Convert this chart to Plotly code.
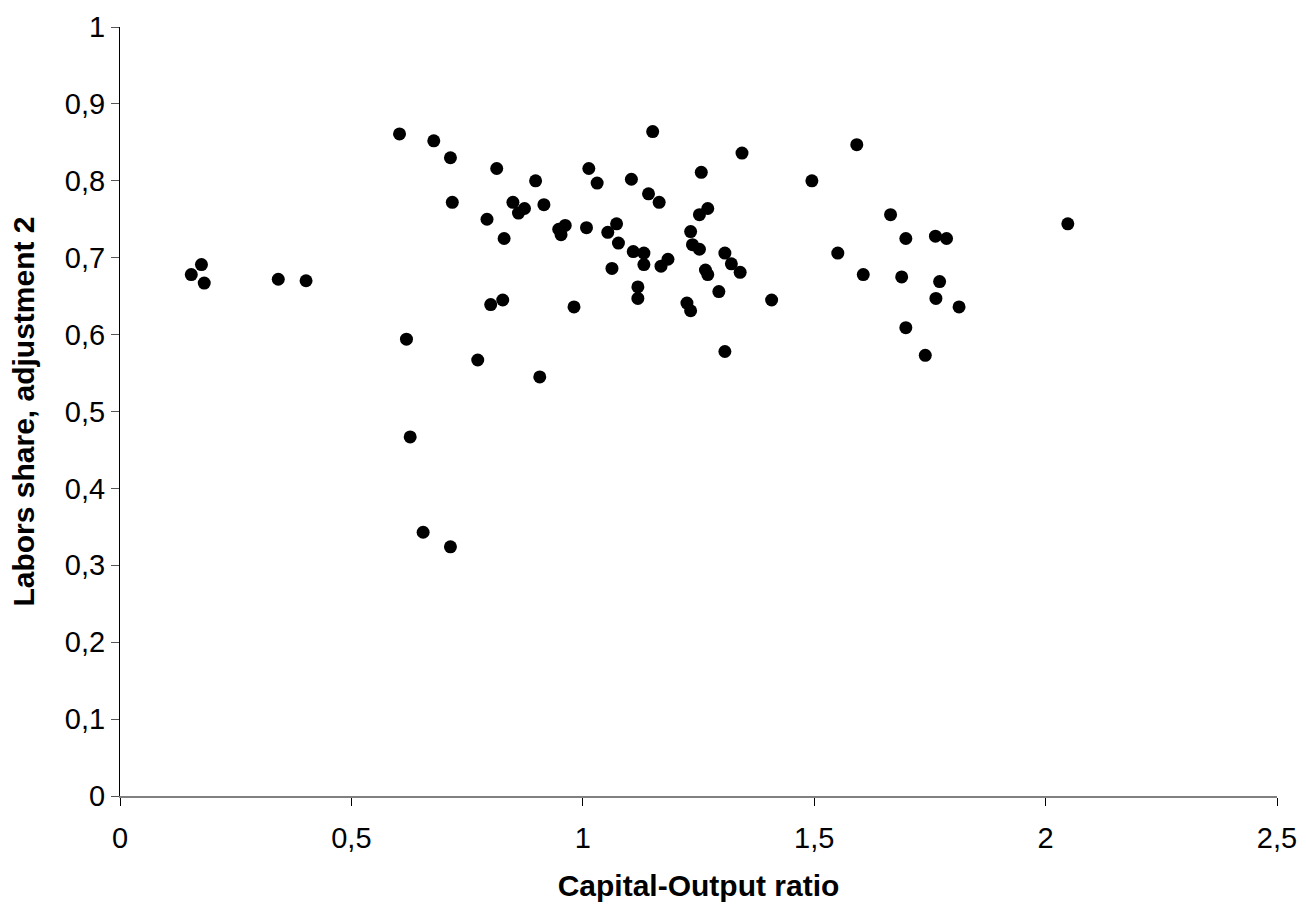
import plotly.graph_objects as go

# Capital-Output ratio (x) and Labors share, adjustment 2 (y)
capital_output = [
    0.154, 0.176, 0.182, 0.342, 0.402, 0.604, 0.678, 0.714, 0.814, 0.718,
    0.793, 0.830, 0.801, 0.827, 0.619, 0.773, 0.627, 0.655, 0.714, 1.151,
    1.592, 1.344, 1.013, 1.256, 0.898, 1.495, 1.105, 1.031, 1.142, 1.165,
    0.916, 0.849, 0.874, 0.861, 1.270, 1.252, 1.665, 0.962, 0.948, 0.953,
    1.008, 1.073, 1.054, 1.077, 1.233, 1.237, 1.252, 1.109, 1.132, 1.132,
    1.184, 1.169, 1.307, 1.321, 1.340, 1.265, 1.270, 1.063, 1.551, 1.606,
    1.689, 1.119, 1.119, 1.294, 1.408, 0.981, 1.225, 1.233, 1.307, 0.907,
    2.048, 1.698, 1.762, 1.786, 1.771, 1.763, 1.813, 1.698, 1.740,
]
labor_share = [
    0.678, 0.691, 0.667, 0.672, 0.670, 0.861, 0.852, 0.830, 0.816, 0.772,
    0.750, 0.725, 0.639, 0.645, 0.594, 0.567, 0.467, 0.343, 0.324, 0.864,
    0.847, 0.836, 0.816, 0.811, 0.800, 0.800, 0.802, 0.797, 0.783, 0.772,
    0.769, 0.772, 0.764, 0.758, 0.764, 0.756, 0.756, 0.742, 0.737, 0.730,
    0.739, 0.744, 0.733, 0.719, 0.734, 0.717, 0.711, 0.708, 0.706, 0.691,
    0.698, 0.689, 0.706, 0.692, 0.681, 0.684, 0.678, 0.686, 0.706, 0.678,
    0.675, 0.662, 0.647, 0.656, 0.645, 0.636, 0.641, 0.631, 0.578, 0.545,
    0.744, 0.725, 0.728, 0.725, 0.669, 0.647, 0.636, 0.609, 0.573,
]

x_title = "Capital-Output ratio"
y_title = "Labors share, adjustment 2"

fig = go.Figure(
    go.Scatter(
        x=capital_output,
        y=labor_share,
        mode="markers",
        marker=dict(color="black", size=13, line=dict(width=0)),
        showlegend=False,
        cliponaxis=False,
    )
)

tick_font = dict(family="Liberation Sans, Arial, sans-serif", size=29, color="black")
title_font = dict(family="Liberation Sans, Arial, sans-serif", size=30, color="black", weight="bold")

fig.update_layout(
    width=1306,
    height=907,
    paper_bgcolor="white",
    plot_bgcolor="white",
    separators=", ",
    margin=dict(l=120, r=29, t=27, b=111, autoexpand=False),
)

fig.update_xaxes(
    range=[0, 2.5],
    tickmode="linear",
    tick0=0,
    dtick=0.5,
    showgrid=False,
    zeroline=False,
    showline=True,
    linecolor="#808080",
    linewidth=1.5,
    ticks="outside",
    ticklen=8,
    tickwidth=1,
    tickcolor="black",
    tickfont=tick_font,
    ticklabelstandoff=7,
    title=dict(text=x_title, font=title_font, standoff=22),
    automargin=False,
)

fig.update_yaxes(
    range=[0, 1],
    tickmode="linear",
    tick0=0,
    dtick=0.1,
    showgrid=False,
    zeroline=False,
    showline=True,
    linecolor="black",
    linewidth=1,
    ticks="outside",
    ticklen=8,
    tickwidth=1,
    tickcolor="#555555",
    tickfont=tick_font,
    ticklabelstandoff=0,
    title=dict(text=y_title, font=title_font, standoff=21),
    automargin=False,
)

fig.write_html("out.html")
